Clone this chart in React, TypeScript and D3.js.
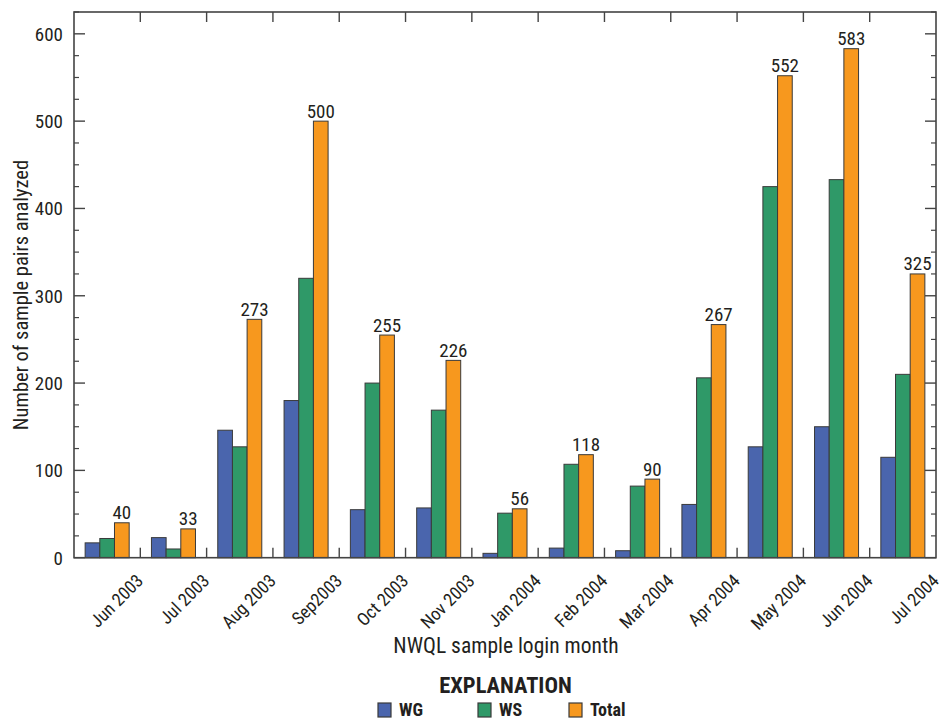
import React from "react";
import * as d3 from "d3";

const months = ["Jun 2003","Jul 2003","Aug 2003","Sep2003","Oct 2003","Nov 2003","Jan 2004","Feb 2004","Mar 2004","Apr 2004","May 2004","Jun 2004","Jul 2004"];
const wg = [17, 23, 146, 180, 55, 57, 5, 11, 8, 61, 127, 150, 115];
const ws = [22, 10, 127, 320, 200, 169, 51, 107, 82, 206, 425, 433, 210];
const total = [40, 33, 273, 500, 255, 226, 56, 118, 90, 267, 552, 583, 325];
const yTicks = [0, 100, 200, 300, 400, 500, 600];
const seriesNames = ["WG", "WS", "Total"];
const colors = ["#4a65ad", "#2f9968", "#f7981e"];

const FONT = "'Liberation Sans Narrow', 'Roboto Condensed', 'DejaVu Sans Condensed', Arial, sans-serif";

export default function App() {
  const W = 948, H = 721;
  const left = 74, right = 936, top = 12, bottom = 557.7;
  const x = d3.scaleBand<string>().domain(months).range([left, right]).paddingInner(0).paddingOuter(0);
  const y = d3.scaleLinear().domain([0, 625]).range([bottom, top]);
  const inner = d3.scaleBand<string>().domain(seriesNames).range([0, x.bandwidth() * 0.664]);
  const groupOffset = (x.bandwidth() - x.bandwidth() * 0.664) / 2;
  const series = [wg, ws, total];
  const minorTicks = d3.range(0, 626, 25).filter((v) => v % 100 !== 0);
  const stroke = "#3a3a3a";
  const txt = "#231f20";

  return (
    <svg width={W} height={H} style={{ position: "absolute", left: 0, top: 0, background: "#fff" }} fontFamily={FONT}>
      {months.map((m, i) => (
        <g key={m}>
          {series.map((s, j) => (
            <rect
              key={j}
              x={(x(m) as number) + groupOffset + (inner(seriesNames[j]) as number)}
              y={y(s[i])}
              width={inner.bandwidth()}
              height={bottom - y(s[i])}
              fill={colors[j]}
              stroke={stroke}
              strokeWidth={1}
            />
          ))}
          <text
            x={(x(m) as number) + groupOffset + (inner("Total") as number) + inner.bandwidth() / 2}
            y={y(total[i]) - 3.5}
            textAnchor="middle"
            fontSize={19}
            fill={txt}
          >
            {total[i]}
          </text>
        </g>
      ))}
      <rect x={left} y={top} width={right - left} height={bottom - top} fill="none" stroke="#444" strokeWidth={1.6} />
      {yTicks.map((v) => (
        <g key={"yt" + v}>
          <line x1={left} x2={left + 11} y1={y(v)} y2={y(v)} stroke="#444" strokeWidth={1.4} />
          <line x1={right} x2={right - 11} y1={y(v)} y2={y(v)} stroke="#444" strokeWidth={1.4} />
          <text x={63} y={y(v) + 7} textAnchor="end" fontSize={19} fill={txt}>{v}</text>
        </g>
      ))}
      {minorTicks.map((v) => (
        <g key={"mt" + v}>
          <line x1={left} x2={left + 5} y1={y(v)} y2={y(v)} stroke="#444" strokeWidth={1.2} />
          <line x1={right} x2={right - 5} y1={y(v)} y2={y(v)} stroke="#444" strokeWidth={1.2} />
        </g>
      ))}
      {months.slice(1).map((m) => (
        <g key={"xt" + m}>
          <line x1={x(m) as number} x2={x(m) as number} y1={top} y2={top + 10} stroke="#444" strokeWidth={1.4} />
          <line x1={x(m) as number} x2={x(m) as number} y1={bottom} y2={bottom - 10} stroke="#444" strokeWidth={1.4} />
        </g>
      ))}
      {months.map((m) => {
        const ax = (x(m) as number) + x.bandwidth() + 4;
        const ay = 582;
        return (
          <text key={"xl" + m} x={ax} y={ay} textAnchor="end" fontSize={18} fill={txt} transform={`rotate(-45 ${ax} ${ay})`}>
            {m}
          </text>
        );
      })}
      <text transform={`translate(28 295) rotate(-90)`} textAnchor="middle" fontSize={20.5} fill={txt}>
        Number of sample pairs analyzed
      </text>
      <text x={506} y={653} textAnchor="middle" fontSize={21.5} fill={txt}>NWQL sample login month</text>
      <text x={505.5} y={693} textAnchor="middle" fontSize={22.5} fontWeight="bold" fill={txt}>EXPLANATION</text>
      {seriesNames.map((n, j) => {
        const lx = [378, 478, 569][j];
        return (
          <g key={"lg" + n}>
            <rect x={lx} y={703} width={13} height={14} fill={colors[j]} stroke={stroke} strokeWidth={1.2} />
            <text x={lx + 21} y={716} fontSize={18} fontWeight="bold" fill={txt}>{n}</text>
          </g>
        );
      })}
    </svg>
  );
}
